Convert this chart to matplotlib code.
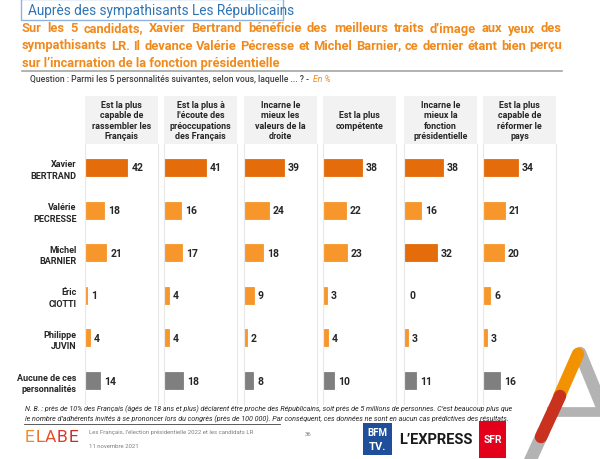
import matplotlib
matplotlib.use("Agg")
import matplotlib.pyplot as plt
from matplotlib.patches import Rectangle
from matplotlib.lines import Line2D

plt.rcParams['font.family'] = ['Roboto', 'DejaVu Sans']

QUESTIONS = [
    "Est la plus\ncapable de\nrassembler les\nFrançais",
    "Est la plus à\nl'écoute des\npréoccupations\ndes Français",
    "Incarne le\nmieux les\nvaleurs de la\ndroite",
    "Est la plus\ncompétente",
    "Incarne le\nmieux la\nfonction\nprésidentielle",
    "Est la plus\ncapable de\nréformer le\npays",
]
CANDIDATES = [
    "Xavier\nBERTRAND",
    "Valérie\nPECRESSE",
    "Michel\nBARNIER",
    "Éric\nCIOTTI",
    "Philippe\nJUVIN",
    "Aucune de ces\npersonnalités",
]
# one list per question, in the order of CANDIDATES
Q1 = [42, 18, 21, 1, 4, 14]
Q2 = [41, 16, 17, 4, 4, 18]
Q3 = [39, 24, 18, 9, 2, 8]
Q4 = [38, 22, 23, 3, 4, 10]
Q5 = [38, 16, 32, 0, 3, 11]
Q6 = [34, 21, 20, 6, 3, 16]
VALUES = [Q1, Q2, Q3, Q4, Q5, Q6]

TITLE = "Auprès des sympathisants Les Républicains"
SUBTITLE = [
    "Sur les 5 candidats, Xavier Bertrand bénéficie des meilleurs traits d’image aux yeux des",
    "sympathisants LR. Il devance Valérie Pécresse et Michel Barnier, ce dernier étant bien perçu",
    "sur l’incarnation de la fonction présidentielle",
]
QUESTION = "Question : Parmi les 5 personnalités suivantes, selon vous, laquelle ... ? -"
NB = [
    "N. B. : près de 10% des Français (âgés de 18 ans et plus) déclarent être proche des Républicains, soit près de 5 millions de personnes. C’est beaucoup plus que",
    "le nombre d’adhérents invités à se prononcer lors du congrès (près de 100 000). Par conséquent, ces données ne sont en aucun cas prédictives des résultats.",
]

DARK = '#E46C0A'
LIGHT = '#F7962B'
GREY = '#7F7F7F'
ORANGE_TXT = '#F08A1C'

W, H = 600, 460


def fx(x):
    return x / W


def fy(y):
    return 1 - y / H


def justify(fig, line, x0, x1, y, **kw):
    words = line.split(' ')
    texts = [fig.text(fx(x0), fy(y), w, va='center', **kw) for w in words]
    r = fig.canvas.get_renderer()
    widths = [t.get_window_extent(r).width for t in texts]
    gap = (x1 - x0 - sum(widths)) / (len(words) - 1)
    x = x0
    for t, w in zip(texts, widths):
        t.set_x(fx(x))
        x += w + gap


fig = plt.figure(figsize=(6, 4.6), dpi=100)
r = fig.canvas.get_renderer()

# title box
fig.patches.append(Rectangle((fx(21), fy(21)), (283 - 21) / W, 21 / H,
                             transform=fig.transFigure, facecolor='white',
                             edgecolor='#8DB3E2', linewidth=1))
fig.text(fx(28), fy(10.5), TITLE, color='#2E74B5', fontsize=9.8, va='center')

# subtitle, justified like the slide
for i, line in enumerate(SUBTITLE):
    y = 29 + i * 17
    if i < 2:
        justify(fig, line, 22, 562, y, color=ORANGE_TXT, fontsize=9.3, fontweight='bold')
    else:
        fig.text(fx(22), fy(y), line, color=ORANGE_TXT, fontsize=9.3,
                 fontweight='bold', va='center')
fig.add_artist(Line2D([fx(22), fx(562)], [fy(71.5), fy(71.5)], color='#A6A6A6', lw=1.2))

q = fig.text(fx(30), fy(79), QUESTION, fontsize=6.2, color='#404040', va='center',
             fontweight='medium')
qx = q.get_window_extent(r).x1
fig.text(qx / W + 0.006, fy(79), "En %", fontsize=6.2, color=ORANGE_TXT,
         style='italic', va='center')

# panels
lefts = [85, 164, 244, 323, 404, 483]
pw = 73
top, header_bottom, bottom = 97, 145, 405
ypos = list(range(len(CANDIDATES)))

for k, (left, quest, vals) in enumerate(zip(lefts, QUESTIONS, VALUES)):
    fig.patches.append(Rectangle((fx(left), fy(header_bottom)), pw / W,
                                 (header_bottom - top) / H, transform=fig.transFigure,
                                 facecolor='#F2F2F2', edgecolor='none'))
    fig.text(fx(left + pw / 2), fy((top + header_bottom) / 2), quest, ha='center',
             va='center', fontsize=6.4, fontweight='bold', color='#262626',
             linespacing=1.2)
    ax = fig.add_axes([fx(left), fy(bottom), pw / W, (bottom - header_bottom) / H])
    colors = []
    for i, v in enumerate(vals):
        if i == len(vals) - 1:
            colors.append(GREY)
        elif v >= 30:
            colors.append(DARK)
        else:
            colors.append(LIGHT)
    for yy, v, c in zip(ypos, vals, colors):
        if v > 0:
            ax.barh(yy, v, height=0.4, color=c, edgecolor=c, linewidth=0.6,
                    left=0.5, zorder=3)
        ax.text(v + 5, yy, str(v), va='center', ha='left', fontsize=7.5,
                fontweight='bold', color='#262626')
    ax.set_xlim(0, pw)
    ax.set_ylim(5.55, -0.55)
    ax.set_xticks([])
    ax.set_yticks([])
    for s in ['top', 'bottom']:
        ax.spines[s].set_visible(False)
    for s in ['left', 'right']:
        ax.spines[s].set_color('#E8E8E8')
        ax.spines[s].set_linewidth(0.8)
    if k == 0:
        ax.set_yticks(ypos)
        ax.set_yticklabels(CANDIDATES, fontsize=6.5, fontweight='bold',
                           color='#262626', linespacing=1.35)
        ax.tick_params(axis='y', length=0, pad=6)

# notes
for i, line in enumerate(NB):
    fig.text(fx(25), fy(409 + i * 10.5), line, fontsize=5.1, style='italic',
             color='#262626', va='center')
fig.add_artist(Line2D([fx(24), fx(280)], [fy(425), fy(425)], color='#404040', lw=0.6))

# footer
elabe_cols = ['#F28C28', '#EC6E23', '#E5502A', '#D93A2B', '#C9302C']
x = 25
for ch, c in zip("ELABE", elabe_cols):
    t = fig.text(fx(x), fy(438), ch, fontsize=12.5, color=c, va='center')
    x = t.get_window_extent(r).x1 + 0.5
fig.text(fx(89), fy(433), "Les Français, l’élection présidentielle 2022 et les candidats LR",
         fontsize=4.3, color='#7F7F7F', va='center')
fig.text(fx(89), fy(447), "11 novembre 2021", fontsize=4.3, color='#7F7F7F', va='center')
fig.text(fx(305), fy(435), "36", fontsize=4.3, color='#7F7F7F', va='center')

fig.patches.append(Rectangle((fx(363), fy(456)), 29 / W, 32 / H, transform=fig.transFigure,
                             facecolor='#1F4E9A', edgecolor='none'))
fig.text(fx(377.5), fy(433), "BFM", fontsize=7, color='white', fontweight='bold',
         ha='center', va='center')
fig.text(fx(377.5), fy(447), "TV.", fontsize=8, color='white', fontweight='bold',
         ha='center', va='center')
fig.text(fx(436), fy(440), "L’EXPRESS", fontsize=10.5, color='#1A1A1A', fontweight='bold',
         ha='center', va='center')
fig.patches.append(Rectangle((fx(479), fy(459)), 27 / W, 37 / H, transform=fig.transFigure,
                             facecolor='#E2001A', edgecolor='none'))
fig.text(fx(492.5), fy(440), "SFR", fontsize=7.5, color='white', fontweight='bold',
         ha='center', va='center')

# decorative "A"
fig.add_artist(Line2D([fx(552), fx(600)], [fy(413), fy(413)], color='#B3B3B3', lw=7))
fig.add_artist(Line2D([fx(580), fx(605)], [fy(354), fy(415)], color='#B3B3B3', lw=9,
                      solid_capstyle='round'))
fig.add_artist(Line2D([fx(541), fx(530)], [fy(438), fy(462)], color='#B3B3B3', lw=9))
fig.add_artist(Line2D([fx(578), fx(559)], [fy(355), fy(398)], color='#F39200', lw=9,
                      solid_capstyle='round'))
fig.add_artist(Line2D([fx(560), fx(541)], [fy(397), fy(438)], color='#C8321E', lw=9,
                      solid_capstyle='round'))

fig.savefig('out.png', dpi=100)
